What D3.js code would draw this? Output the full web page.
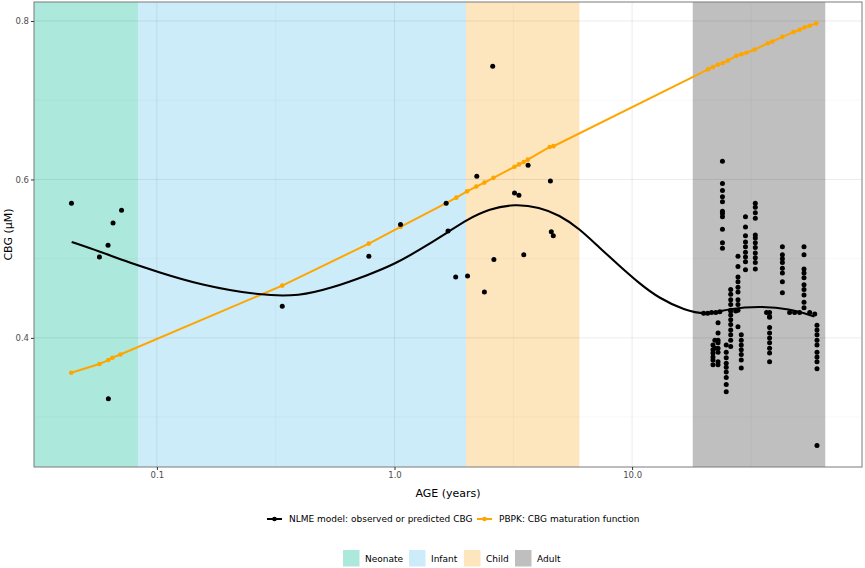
<!DOCTYPE html>
<html>
<head>
<meta charset="utf-8">
<script src="https://cdn.jsdelivr.net/npm/d3@7.9.0/dist/d3.min.js"></script>
<style>
  body { margin: 0; background: #fff; }
  text { font-family: "DejaVu Sans", sans-serif; }
</style>
</head>
<body>
<svg id="chart" width="865" height="568"></svg>
<script>
// ---- data ----
const bandLabels = ["Neonate", "Infant", "Child", "Adult"];
const bandStart = [0.0304, 1 / 12, 2, 18];
const bandEnd = [1 / 12, 2, 6, 65];

// PBPK maturation function (orange)
const pbpkAge = [0.0436, 0.0573, 0.0625, 0.065, 0.0702, 0.337, 0.78, 1.06, 1.65, 1.82, 2.02, 2.21, 2.39, 2.61,
  3.2, 3.34, 3.5, 3.64, 4.5, 4.67, 20.9, 21.9, 23.0, 24.1, 25.3, 27.5, 28.8, 30.3, 32.8, 37.3, 38.9, 42.9,
  47.8, 50.7, 53.2, 55.9, 59.6];
const pbpkCbg = [0.356, 0.367, 0.372, 0.375, 0.379, 0.466, 0.519, 0.540, 0.570, 0.577, 0.585, 0.591, 0.596, 0.602,
  0.616, 0.619, 0.622, 0.625, 0.641, 0.642, 0.739, 0.742, 0.745, 0.747, 0.750, 0.756, 0.758, 0.760, 0.764, 0.772,
  0.774, 0.780, 0.786, 0.789, 0.792, 0.794, 0.797];

// NLME population curve (black)
const nlmeAge = [0.0438, 0.0574, 0.0767, 0.0996, 0.151, 0.279, 0.398, 0.533, 0.785, 1.0, 1.274, 1.671, 2.01,
  2.51, 3.2, 4.08, 4.94, 6.0, 7.28, 8.85, 10.7, 13.0, 16.6, 20.5, 25.7, 34.3, 45.9, 58.5];
const nlmeCbg = [0.521, 0.509, 0.495, 0.484, 0.467, 0.453, 0.453, 0.462, 0.480, 0.493, 0.511, 0.533, 0.549,
  0.563, 0.569, 0.565, 0.555, 0.538, 0.514, 0.491, 0.469, 0.450, 0.435, 0.429, 0.437, 0.440, 0.437, 0.427];

// observed CBG, neonates to children
const obsAge = [0.0437, 0.0573, 0.0623, 0.0625, 0.0654, 0.071, 0.337, 0.78, 1.06, 1.65, 1.68, 1.81, 2.03, 2.22,
  2.39, 2.59, 2.62, 3.2, 3.34, 3.5, 3.65, 4.53, 4.57, 4.66];
const obsCbg = [0.570, 0.502, 0.517, 0.323, 0.545, 0.561, 0.440, 0.503, 0.543, 0.570, 0.535, 0.477, 0.478, 0.604,
  0.458, 0.743, 0.499, 0.583, 0.580, 0.505, 0.618, 0.598, 0.534, 0.529];

// observed CBG, adults (one list per subject age)
const adultAge = [21.9, 22.3, 23.0, 24.0, 24.9, 26.0, 27.9, 28.8, 30.0, 33.0, 37.9, 42.9, 52.9, 60.0];
const adultCbg = [
  [0.391, 0.385, 0.381, 0.376, 0.372, 0.366],
  [0.397, 0.387],
  [0.419, 0.406, 0.397, 0.394, 0.387, 0.382, 0.370, 0.366],
  [0.623, 0.595, 0.586, 0.578, 0.572, 0.560, 0.557, 0.553, 0.537, 0.520, 0.513],
  [0.391, 0.382, 0.375, 0.368, 0.363, 0.357, 0.350, 0.341, 0.332],
  [0.461, 0.455, 0.448, 0.442, 0.435, 0.429, 0.423, 0.417, 0.410, 0.404, 0.397, 0.389],
  [0.503, 0.490, 0.477, 0.471, 0.464, 0.458, 0.448, 0.442, 0.435, 0.414],
  [0.404, 0.397, 0.391, 0.385, 0.379, 0.372, 0.362],
  [0.553, 0.540, 0.529, 0.521, 0.515, 0.508, 0.502, 0.496, 0.486],
  [0.570, 0.565, 0.558, 0.551, 0.530, 0.526, 0.520, 0.514, 0.507, 0.501, 0.495, 0.487],
  [0.432, 0.426, 0.413, 0.406, 0.400, 0.394, 0.387, 0.381, 0.370],
  [0.515, 0.505, 0.500, 0.495, 0.488, 0.482, 0.471, 0.457],
  [0.515, 0.505, 0.487, 0.482, 0.476, 0.467, 0.461, 0.454, 0.445, 0.438],
  [0.416, 0.410, 0.404, 0.397, 0.391, 0.382, 0.376, 0.370, 0.361, 0.264]
];

// predicted CBG, adults
const predAge = [20.0, 20.8, 21.6, 22.5, 23.4, 26.0, 27.3, 36.8, 37.9, 46.0, 48.3, 50.7, 55.9, 58.7];
const predCbg = [0.431, 0.431, 0.432, 0.432, 0.433, 0.434, 0.434, 0.432, 0.427, 0.432, 0.432, 0.432, 0.432, 0.430];

const xTicks = [0.1, 1, 10];
const yTicks = [0.4, 0.6, 0.8];
const lineLabels = ["NLME model: observed or predicted CBG", "PBPK: CBG maturation function"];

// ---- styles ----
const bandColors = ["#ADE8DC", "#CDECF9", "#FDE6BE", "#BFBFBF"];
const lineColors = ["#000000", "#FFA500"];

const panel = { left: 34, right: 862, top: 2, bottom: 467 };

const svg = d3.select('#chart');

let x = d3.scaleLog().domain([0.0304, 92.8]).range([panel.left, panel.right]);
let y = d3.scaleLinear().domain([0.237, 0.824]).range([panel.bottom, panel.top]);

// background bands
svg.append('g')
  .selectAll('rect')
  .data(bandLabels)
  .join('rect')
  .attr('x', (d, i) => x(bandStart[i]))
  .attr('width', (d, i) => x(bandEnd[i]) - x(bandStart[i]))
  .attr('y', panel.top)
  .attr('height', panel.bottom - panel.top)
  .attr('fill', (d, i) => bandColors[i]);

// grid
let grid = svg.append('g').attr('stroke', '#000');
let xMinor = xTicks.map((t) => t * Math.sqrt(10));
let yMinor = yTicks.map((t) => t - 0.1);
grid.selectAll('.xmaj').data(xTicks).join('line')
  .attr('x1', (d) => x(d)).attr('x2', (d) => x(d))
  .attr('y1', panel.top).attr('y2', panel.bottom)
  .attr('stroke-opacity', 0.08).attr('stroke-width', 1);
grid.selectAll('.xmin').data(xMinor).join('line')
  .attr('x1', (d) => x(d)).attr('x2', (d) => x(d))
  .attr('y1', panel.top).attr('y2', panel.bottom)
  .attr('stroke-opacity', 0.06).attr('stroke-width', 0.6);
grid.selectAll('.ymaj').data(yTicks).join('line')
  .attr('y1', (d) => y(d)).attr('y2', (d) => y(d))
  .attr('x1', panel.left).attr('x2', panel.right)
  .attr('stroke-opacity', 0.08).attr('stroke-width', 1);
grid.selectAll('.ymin').data(yMinor).join('line')
  .attr('y1', (d) => y(d)).attr('y2', (d) => y(d))
  .attr('x1', panel.left).attr('x2', panel.right)
  .attr('stroke-opacity', 0.06).attr('stroke-width', 0.6);

// PBPK line + points
let pbpk = pbpkAge.map((a, i) => ({ age: a, cbg: pbpkCbg[i] }));
let line = d3.line().x((d) => x(d.age)).y((d) => y(d.cbg));
svg.append('path')
  .attr('d', line(pbpk))
  .attr('fill', 'none')
  .attr('stroke', lineColors[1])
  .attr('stroke-width', 2);
svg.append('g')
  .selectAll('circle')
  .data(pbpk)
  .join('circle')
  .attr('cx', (d) => x(d.age))
  .attr('cy', (d) => y(d.cbg))
  .attr('r', 2.3)
  .attr('fill', lineColors[1]);

// NLME curve
let nlme = nlmeAge.map((a, i) => ({ age: a, cbg: nlmeCbg[i] }));
svg.append('path')
  .attr('d', line.curve(d3.curveBasis)(nlme))
  .attr('fill', 'none')
  .attr('stroke', lineColors[0])
  .attr('stroke-width', 2.1);

// black points
let points = obsAge.map((a, i) => ({ age: a, cbg: obsCbg[i] }));
adultAge.forEach((a, i) => {
  adultCbg[i].forEach((v) => points.push({ age: a, cbg: v }));
});
predAge.forEach((a, i) => points.push({ age: a, cbg: predCbg[i] }));
svg.append('g')
  .selectAll('circle')
  .data(points)
  .join('circle')
  .attr('cx', (d) => x(d.age))
  .attr('cy', (d) => y(d.cbg))
  .attr('r', 2.5)
  .attr('fill', '#000');

// panel border
svg.append('rect')
  .attr('x', panel.left).attr('y', panel.top)
  .attr('width', panel.right - panel.left)
  .attr('height', panel.bottom - panel.top)
  .attr('fill', 'none')
  .attr('stroke', '#7a7a7a')
  .attr('stroke-width', 1);

// axes
let xAxis = svg.append('g')
  .attr('transform', `translate(0,${panel.bottom})`)
  .call(d3.axisBottom(x).tickValues(xTicks).tickFormat(d3.format('.1f')).tickSize(3).tickPadding(2));
let yAxis = svg.append('g')
  .attr('transform', `translate(${panel.left},0)`)
  .call(d3.axisLeft(y).tickValues(yTicks).tickFormat(d3.format('.1f')).tickSize(3).tickPadding(2));
[xAxis, yAxis].forEach((ax) => {
  ax.select('.domain').remove();
  ax.selectAll('.tick line').attr('stroke', '#333');
  ax.selectAll('.tick text')
    .attr('fill', '#4d4d4d')
    .style('font-size', '8.5px')
    .style('font-family', '"DejaVu Sans", sans-serif');
});

// axis titles
svg.append('text')
  .attr('x', (panel.left + panel.right) / 2)
  .attr('y', 497)
  .attr('text-anchor', 'middle')
  .style('font-size', '11px')
  .text('AGE (years)');
svg.append('text')
  .attr('transform', `translate(12,${(panel.top + panel.bottom) / 2}) rotate(-90)`)
  .attr('text-anchor', 'middle')
  .style('font-size', '11px')
  .text('CBG (µM)');

// line legend
let keyX = [267, 477];
let lineLegend = svg.append('g');
lineLabels.forEach((label, i) => {
  let g = lineLegend.append('g').attr('transform', `translate(${keyX[i]},519)`);
  g.append('line').attr('x1', 0).attr('x2', 15)
    .attr('stroke', lineColors[i]).attr('stroke-width', 2);
  g.append('circle').attr('cx', 7.5).attr('r', 2.3).attr('fill', lineColors[i]);
  g.append('text').attr('x', 22).attr('dy', '0.35em')
    .style('font-size', '9px').attr('fill', '#000').text(label);
});

// band legend
let swatchX = [343, 409, 464, 515];
let bandLegend = svg.append('g');
bandLabels.forEach((label, i) => {
  let g = bandLegend.append('g').attr('transform', `translate(${swatchX[i]},550)`);
  g.append('rect').attr('width', 16.5).attr('height', 16.5).attr('fill', bandColors[i]);
  g.append('text').attr('x', 22).attr('y', 8.5).attr('dy', '0.35em')
    .style('font-size', '9px').attr('fill', '#000').text(label);
});
</script>
</body>
</html>
